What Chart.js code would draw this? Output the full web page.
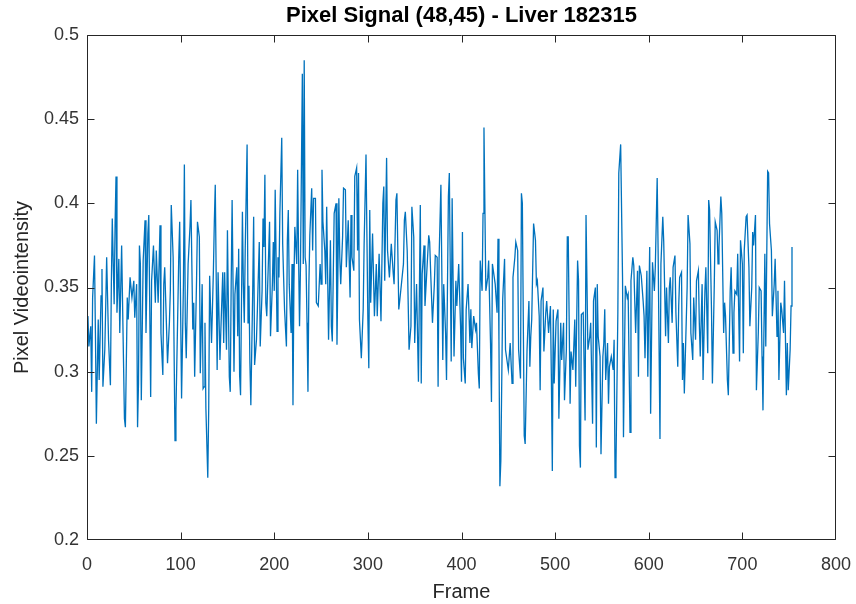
<!DOCTYPE html>
<html>
<head>
<meta charset="utf-8">
<script src="https://cdn.jsdelivr.net/npm/chart.js@4/dist/chart.umd.min.js"></script>
<style>
  html, body { margin: 0; padding: 0; background: #fff; }
  #wrap { width: 856px; height: 604px; }
</style>
</head>
<body>
<div id="wrap"><canvas id="signalChart" width="856" height="604"></canvas></div>
<script>
// frame numbers and pixel videointensity
const frames = [
  1,2,4,5,6,8,9,10,12,13,15,16,17,19,20,21,23,25,26,27,29,30,31,32,34,35,37,38,40,41,
  43,44,46,48,50,51,53,54,55,56,57,58,60,62,63,65,66,68,69,71,73,74,76,78,79,81,82,83,85,86,
  88,89,90,92,94,95,97,98,99,101,103,104,105,106,108,110,111,113,114,115,117,118,120,121,123,124,
  125,126,127,129,130,131,133,134,135,136,137,139,140,142,143,145,146,147,149,150,152,153,154,155,
  157,158,160,161,162,163,164,166,167,168,169,171,172,173,174,175,177,178,179,181,182,184,185,187,
  188,189,190,191,192,194,195,196,198,199,200,201,203,204,205,206,208,209,210,211,213,214,215,216,
  218,219,220,221,222,224,225,226,227,228,230,231,232,233,234,235,236,237,238,240,241,242,
  244,245,247,249,250,251,252,254,255,256,258,260,261,262,264,266,267,269,270,271,273,274,276,277,
  278,279,281,282,283,285,286,288,289,290,291,293,295,296,298,300,301,302,303,305,307,309,310,312,
  314,316,317,318,320,321,323,325,327,328,330,331,333,334,336,338,339,340,342,344,346,347,349,350,
  352,354,356,357,358,360,361,363,365,366,
  367,369,371,372,374,375,376,378,380,381,383,384,386,387,389,390,392,394,395,397,399,400,401,402,
  404,405,407,409,410,411,413,415,416,418,419,420,422,423,424,426,428,429,431,432,433,434,436,438,
  439,440,441,442,444,446,447,448,450,452,454,455,457,458,460,461,463,464,465,467,468,470,472,473,
  474,475,477,479,480,481,483,484,485,487,488,490,
  491,493,495,496,497,498,499,501,503,504,506,507,509,510,512,513,514,516,517,519,521,522,524,525,
  526,527,528,530,532,533,535,537,538,540,541,543,544,545,546,548,549,551,552,553,554,556,557,558,
  560,562,563,564,565,567,568,570,572,573,575,577,578,580,581,583,584,586,588,589,590,592,594,595,
  596,598,599,601,602,604,606,607,609,610,612,
  613,615,616,618,619,621,622,623,625,626,628,629,631,632,633,635,636,637,638,640,641,642,644,645,
  647,648,650,651,653,654,655,657,658,660,661,663,664,665,667,668,670,671,673,674,675,677,678,680,
  681,682,684,685,687,688,690,691,692,694,695,697,698,700,701,702,704,705,707,708,710,711,712,714,
  715,717,718,720,721,722,724,725,727,728,729,731,732,734,735,737,738,739,741,742,744,745,747,748,
  749,751,752,753
];
const intensity = [
  0.333,0.315,0.327,0.288,0.344,0.369,0.323,0.269,0.331,0.295,0.345,0.361,0.291,0.313,0.339,0.368,0.319,0.292,0.352,0.391,0.340,0.388,0.416,0.335,0.367,0.323,0.375,0.340,0.272,0.267,
  0.344,0.331,0.356,0.344,0.354,0.332,0.352,0.267,0.293,0.375,0.364,0.283,0.366,0.390,0.323,0.382,0.393,0.285,0.354,0.375,0.341,0.372,0.341,0.387,0.323,0.298,0.352,0.362,0.325,0.305,
  0.329,0.348,0.399,0.368,0.259,0.277,0.337,0.368,0.389,0.284,0.352,0.423,0.329,0.308,0.364,0.386,0.402,0.325,0.341,0.297,0.354,0.389,0.380,0.299,0.352,0.290,
  0.291,0.329,0.278,0.237,0.278,0.357,0.317,0.338,0.360,0.389,0.411,0.301,0.359,0.307,0.325,0.359,0.317,0.359,0.313,0.384,0.297,0.288,0.352,0.402,
  0.300,0.346,0.362,0.321,0.373,0.298,0.286,0.395,0.352,0.329,0.373,0.435,0.329,0.351,0.305,0.280,0.348,0.392,0.304,0.319,0.337,0.377,0.315,0.348,
  0.391,0.374,0.417,0.341,0.333,0.370,0.389,0.321,0.352,0.377,0.348,0.408,0.324,0.368,0.356,0.394,0.439,0.376,0.356,0.337,0.315,0.378,0.396,0.352,
  0.323,0.364,0.280,0.352,0.386,0.364,0.420,0.368,0.327,0.362,0.477,0.364,0.485,0.368,0.363,0.329,0.288,0.352,0.381,0.409,0.372,0.403,
  0.403,0.341,0.339,0.364,0.352,0.420,0.389,0.372,0.352,0.398,0.319,0.378,0.327,0.318,0.394,0.400,0.316,0.403,0.368,0.352,0.380,0.409,0.408,0.362,
  0.376,0.390,0.344,0.393,0.368,0.360,0.416,0.421,0.372,0.418,0.331,0.308,0.337,0.376,0.429,0.331,0.302,0.396,0.341,0.382,0.333,0.364,0.333,0.370,
  0.330,0.400,0.410,0.354,0.427,0.372,0.356,0.376,0.359,0.352,0.402,0.406,0.337,0.342,0.353,0.364,0.390,0.395,0.372,0.313,0.327,0.398,0.380,0.317,
  0.352,0.294,0.399,0.293,0.358,0.375,0.339,0.360,0.381,0.377,
  0.360,0.329,0.352,0.369,0.368,0.291,0.366,0.411,0.307,0.352,0.323,0.295,0.404,0.418,0.306,0.403,0.309,0.354,0.339,0.364,0.327,0.294,0.383,0.308,
  0.293,0.337,0.352,0.317,0.337,0.314,0.333,0.325,0.329,0.299,0.290,0.366,0.348,0.394,0.445,0.348,0.356,0.366,0.317,0.282,0.364,0.360,0.352,0.335,
  0.379,0.319,0.232,0.247,0.343,0.367,0.313,0.309,0.301,0.317,0.293,0.356,0.368,0.377,0.372,0.313,0.296,0.406,0.400,0.262,0.257,0.313,0.342,0.303,
  0.321,0.331,0.388,0.378,0.352,0.354,0.333,0.289,0.342,0.350,0.312,0.335,
  0.342,0.323,0.339,0.296,0.241,0.337,0.293,0.330,0.337,0.272,0.329,0.307,0.329,0.283,0.313,0.380,0.380,0.281,0.312,0.301,0.331,0.291,0.366,0.354,
  0.256,0.243,0.334,0.335,0.271,0.393,0.313,0.321,0.329,0.269,0.342,0.350,0.255,0.352,0.321,0.309,0.251,0.309,0.317,0.337,0.295,0.317,0.281,0.303,
  0.309,0.301,0.319,0.237,0.245,0.335,0.418,0.435,0.356,0.261,0.351,0.344,0.346,0.264,0.354,0.368,0.363,0.323,0.360,0.297,0.363,0.357,0.342,0.333,
  0.308,0.360,0.297,0.374,0.275,0.365,0.348,0.362,0.415,0.372,0.260,
  0.364,0.392,0.377,0.321,0.350,0.317,0.350,0.356,0.329,0.362,0.369,0.335,0.303,0.339,0.356,0.359,0.295,0.317,0.287,0.329,0.350,0.393,0.376,0.323,
  0.307,0.344,0.319,0.354,0.360,0.329,0.309,0.352,0.295,0.348,0.362,0.311,0.402,0.396,0.337,0.293,0.352,0.389,0.384,0.364,0.374,0.404,0.394,0.323,
  0.341,0.333,0.295,0.286,0.348,0.362,0.311,0.335,0.348,0.346,0.370,0.306,0.378,0.364,0.311,0.372,0.392,0.393,0.362,0.327,0.350,0.383,0.375,0.393,
  0.289,0.323,0.350,0.348,0.309,0.277,0.370,0.315,0.419,0.418,0.388,0.372,0.333,0.352,0.367,0.321,0.348,0.295,0.341,0.337,0.323,0.354,0.286,0.317,
  0.289,0.313,0.339,0.374
];

const xTicks = [0, 100, 200, 300, 400, 500, 600, 700, 800];
const yTicks = [0.2, 0.25, 0.3, 0.35, 0.4, 0.45, 0.5];

const axisColor = '#262626';
const fontFamily = '"Liberation Sans", Arial, Helvetica, sans-serif';

// MATLAB style box with the ticks pointing inward on all four sides
const boxTicks = {
  id: 'boxTicks',
  afterDraw(chart) {
    const { ctx, chartArea: a, scales: { x, y } } = chart;
    const l = Math.round(a.left) + 0.5, r = Math.round(a.right) - 0.5;
    const t = Math.round(a.top) + 0.5, b = Math.round(a.bottom) - 0.5;
    const len = 7;
    ctx.save();
    ctx.strokeStyle = axisColor;
    ctx.lineWidth = 1;
    ctx.beginPath();
    ctx.rect(l, t, r - l, b - t);
    x.ticks.forEach(tk => {
      const px = Math.min(r, Math.round(x.getPixelForValue(tk.value)) + 0.5);
      ctx.moveTo(px, b); ctx.lineTo(px, b - len);
      ctx.moveTo(px, t); ctx.lineTo(px, t + len);
    });
    y.ticks.forEach(tk => {
      const py = Math.min(b, Math.round(y.getPixelForValue(tk.value)) + 0.5);
      ctx.moveTo(l, py); ctx.lineTo(l + len, py);
      ctx.moveTo(r, py); ctx.lineTo(r - len, py);
    });
    ctx.stroke();
    ctx.restore();
  }
};

const whiteBg = {
  id: 'whiteBg',
  beforeDraw(chart) {
    const { ctx, width, height } = chart;
    ctx.save();
    ctx.fillStyle = '#fff';
    ctx.fillRect(0, 0, width, height);
    ctx.restore();
  }
};

new Chart(document.getElementById('signalChart'), {
  type: 'line',
  data: {
    datasets: [{
      data: frames.map((f, i) => ({ x: f, y: intensity[i] })),
      borderColor: '#0072BD',
      borderWidth: 1.3,
      pointRadius: 0,
      tension: 0,
      fill: false
    }]
  },
  options: {
    responsive: false,
    animation: false,
    layout: { padding: { left: 0, right: 20, top: 0, bottom: 0 } },
    plugins: {
      legend: { display: false },
      tooltip: { enabled: false },
      title: {
        display: true,
        fullSize: false,
        text: 'Pixel Signal (48,45) - Liver 182315',
        color: '#000',
        font: { family: fontFamily, size: 22, weight: 'bold' },
        padding: { top: 3, bottom: 5.6 }
      }
    },
    scales: {
      x: {
        type: 'linear',
        min: 0,
        max: 800,
        afterFit: s => { s.height = 64; s.paddingLeft = 0; s.paddingRight = 0; },
        afterBuildTicks: s => { s.ticks = xTicks.map(v => ({ value: v })); },
        grid: { display: false },
        border: { display: false },
        ticks: {
          color: '#333',
          padding: 6,
          font: { family: fontFamily, size: 18 },
          maxRotation: 0
        },
        title: {
          display: true,
          text: 'Frame',
          color: axisColor,
          font: { family: fontFamily, size: 20 },
          padding: { top: 1, bottom: 0 }
        }
      },
      y: {
        type: 'linear',
        min: 0.2,
        max: 0.5,
        afterFit: s => { s.width = 87; s.paddingTop = 0; s.paddingBottom = 0; },
        afterBuildTicks: s => { s.ticks = yTicks.map(v => ({ value: v })); },
        grid: { display: false },
        border: { display: false },
        ticks: {
          color: '#333',
          padding: 0,
          font: { family: fontFamily, size: 18 },
          callback: v => String(Number(v.toFixed(2)))
        },
        title: {
          display: true,
          text: 'Pixel Videointensity',
          color: axisColor,
          font: { family: fontFamily, size: 20 },
          padding: { top: 10, bottom: 0 }
        }
      }
    }
  },
  plugins: [whiteBg, boxTicks]
});
</script>
</body>
</html>
